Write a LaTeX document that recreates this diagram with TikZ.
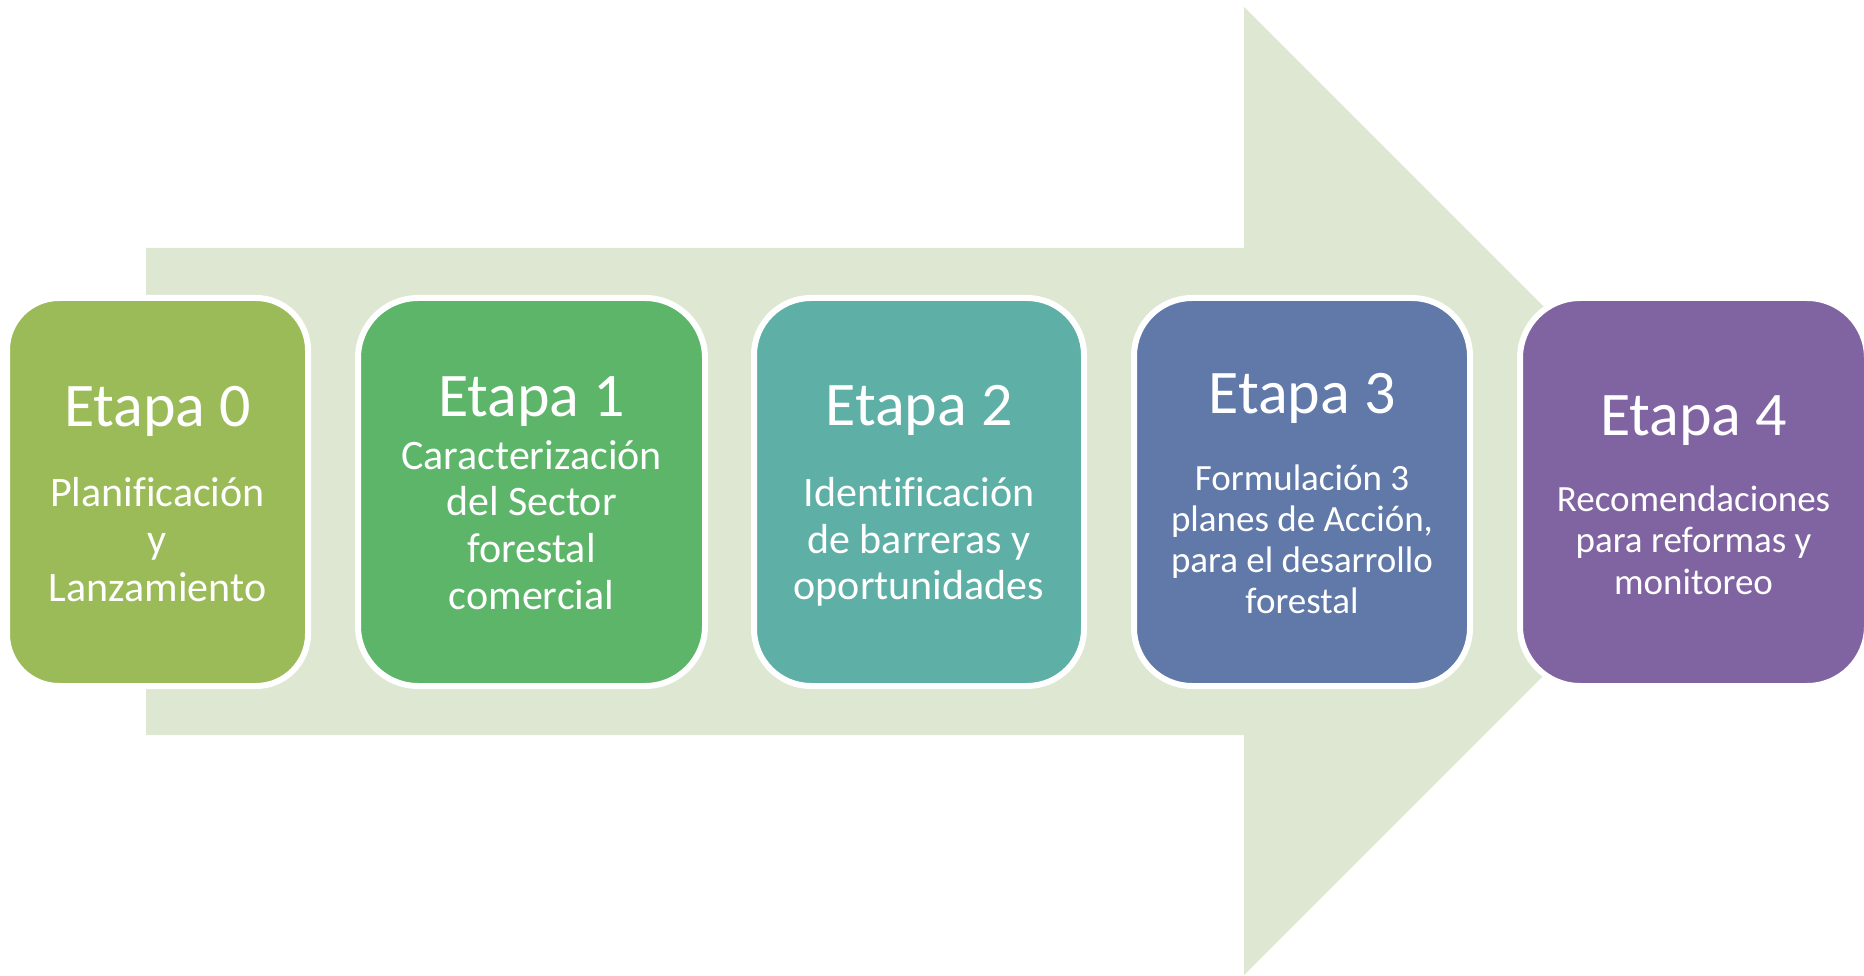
\documentclass[tikz,border=0pt]{standalone}
\usepackage{fontspec}
\setmainfont{Carlito}[Ligatures=NoCommon]
\definecolor{arrowc}{RGB}{222,231,210}
\definecolor{c0}{RGB}{155,187,89}
\definecolor{c1}{RGB}{92,181,104}
\definecolor{c2}{RGB}{94,175,166}
\definecolor{c3}{RGB}{96,121,169}
\definecolor{c4}{RGB}{128,100,162}
\begin{document}
\begin{tikzpicture}[x=1pt,y=-1pt,
  stagebox/.style={rectangle, draw=white, line width=6pt, inner sep=0pt, minimum height=388pt},
  stagetitle/.style={text=white, anchor=base, inner sep=0pt, font=\fontsize{62}{62}\selectfont},
  stagebody/.style={text=white, anchor=base, inner sep=0pt}]
\useasboundingbox (0,0) rectangle (1864,976);
% big arrow
\fill[arrowc] (146,248) -- (1244,248) -- (1244,7) -- (1728,491) -- (1244,975) -- (1244,735) -- (146,735) -- cycle;
% boxes
\node[stagebox, rounded corners=52pt, fill=c0, minimum width=301pt] (b0) at (157.5,492) {};
\node[stagebox, rounded corners=60pt, fill=c1, minimum width=347pt] (b1) at (531.5,492) {};
\node[stagebox, rounded corners=57pt, fill=c2, minimum width=330pt] (b2) at (919,492) {};
\node[stagebox, rounded corners=58pt, fill=c3, minimum width=336pt] (b3) at (1302,492) {};
\node[stagebox, rounded corners=60pt, fill=c4, minimum width=347pt] (b4) at (1693.5,492) {};
% titles
\node[stagetitle] (t0) at (157.5,426) {Etapa 0};
\node[stagetitle] (t1) at (531.5,416) {Etapa 1};
\node[stagetitle] (t2) at (919,425) {Etapa 2};
\node[stagetitle] (t3) at (1302,413) {Etapa 3};
\node[stagetitle] (t4) at (1693.5,435) {Etapa 4};
% bodies
\node[stagebody] (d0) at (157.5,506) {\parbox[t]{320pt}{\centering\fontsize{42}{47.7}\selectfont Planificación\\y\\Lanzamiento}};
\node[stagebody] (d1) at (531.5,469) {\parbox[t]{340pt}{\centering\fontsize{42}{46.8}\selectfont Caracterización\\del Sector\\forestal\\comercial}};
\node[stagebody] (d2) at (919,506.4) {\parbox[t]{340pt}{\centering\fontsize{42}{46.7}\selectfont Identificación\\de barreras y\\oportunidades}};
\node[stagebody] (d3) at (1302,490.4) {\parbox[t]{340pt}{\centering\fontsize{37}{41}\selectfont Formulación 3\\planes de Acción,\\para el desarrollo\\forestal}};
\node[stagebody] (d4) at (1693.5,511) {\parbox[t]{340pt}{\centering\fontsize{37}{41.6}\selectfont Recomendaciones\\para reformas y\\monitoreo}};
\end{tikzpicture}
\end{document}
